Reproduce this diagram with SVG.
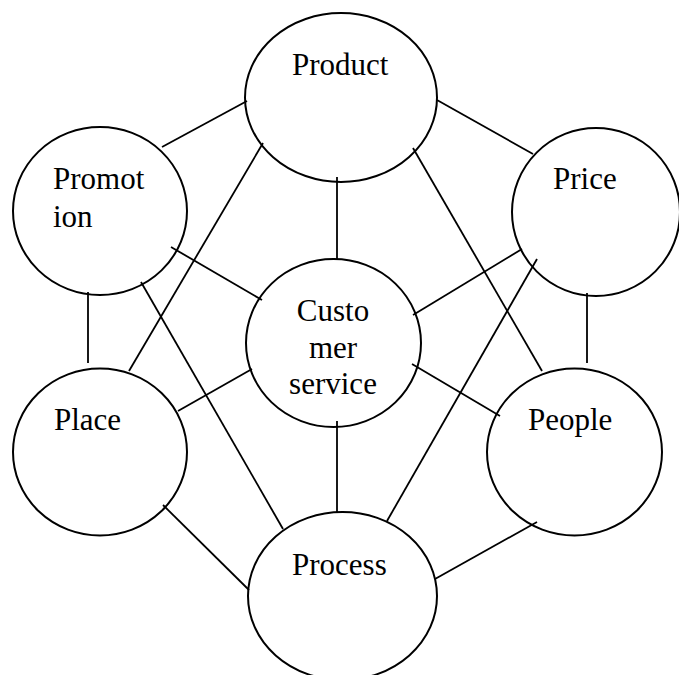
<svg xmlns="http://www.w3.org/2000/svg" width="679" height="675" viewBox="0 0 679 675">
<style>
.n{fill:none;stroke:#000;stroke-width:2}
.c line{stroke:#000;stroke-width:1.8}
text{font-family:"Liberation Serif","Times New Roman",serif;font-size:31px;fill:#000}
</style>
<rect width="679" height="675" fill="#fff"/>
<g class="c" id="connectors">
<line x1="162" y1="147" x2="247" y2="101"/>
<line x1="437" y1="100" x2="533" y2="154"/>
<line x1="337" y1="177" x2="337" y2="259"/>
<line x1="263" y1="143" x2="129" y2="371"/>
<line x1="413" y1="148" x2="542" y2="371"/>
<line x1="171" y1="247" x2="262" y2="300"/>
<line x1="141" y1="282" x2="283" y2="529"/>
<line x1="88" y1="292" x2="88" y2="363"/>
<line x1="522" y1="249" x2="413" y2="315"/>
<line x1="537" y1="259" x2="387" y2="521"/>
<line x1="587" y1="293" x2="587" y2="363"/>
<line x1="252" y1="369" x2="178" y2="411"/>
<line x1="412" y1="364" x2="500" y2="416"/>
<line x1="337" y1="421" x2="337" y2="512"/>
<line x1="163" y1="505" x2="249" y2="590"/>
<line x1="537" y1="522" x2="435" y2="579"/>
</g>
<g id="product"><ellipse class="n" cx="341" cy="97.5" rx="96" ry="84.5"/><text x="292" y="75">Product</text></g>
<g id="promotion"><ellipse class="n" cx="100" cy="211" rx="87" ry="84"/><text x="53" y="189">Promot</text><text x="53" y="227">ion</text></g>
<g id="price"><ellipse class="n" cx="596" cy="212" rx="84" ry="84"/><text x="553" y="189">Price</text></g>
<g id="customer-service"><ellipse class="n" cx="333.5" cy="343" rx="87.5" ry="84"/><text text-anchor="middle" x="333" y="321">Custo</text><text text-anchor="middle" x="333" y="358">mer</text><text text-anchor="middle" x="333" y="394">service</text></g>
<g id="place"><ellipse class="n" cx="100" cy="452" rx="87" ry="83.5"/><text x="54" y="430">Place</text></g>
<g id="people"><ellipse class="n" cx="574.5" cy="452" rx="87.5" ry="83.5"/><text x="528" y="430">People</text></g>
<g id="process"><ellipse class="n" cx="342.5" cy="596" rx="94.5" ry="84"/><text x="292" y="575">Process</text></g>
</svg>
